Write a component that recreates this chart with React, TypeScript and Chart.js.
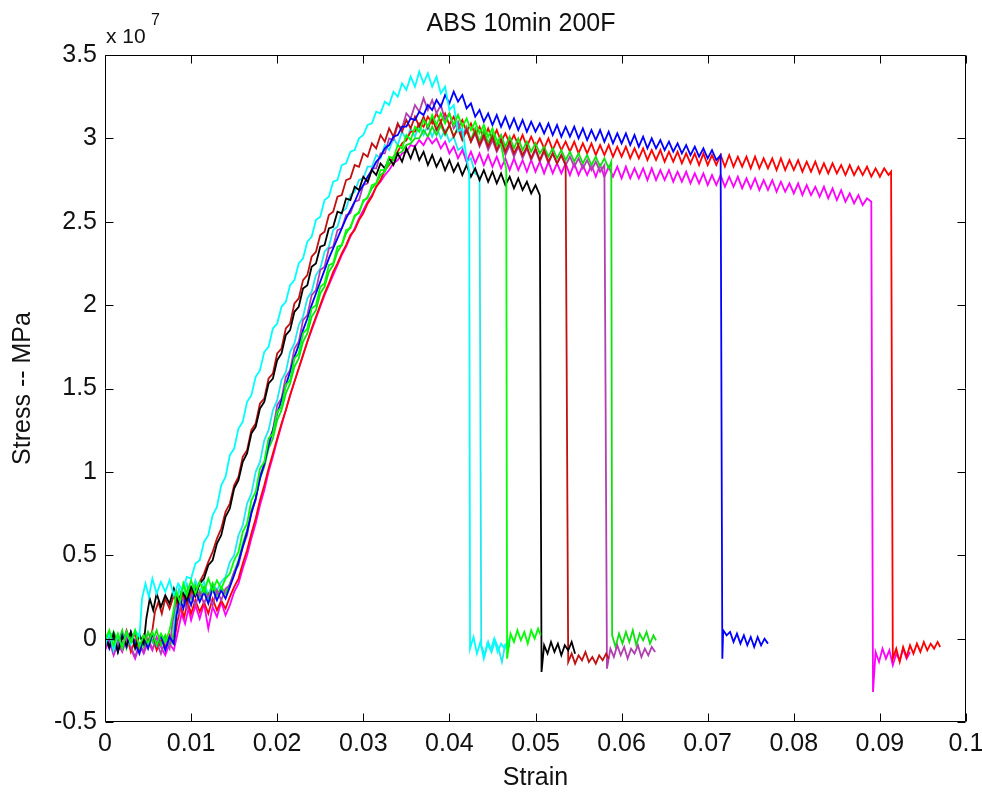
import React, { useEffect, useRef } from 'react';
import { Chart, registerables } from 'chart.js';

Chart.register(...registerables);

// ---- axis ticks ----
const xTickValues = [0, 0.01, 0.02, 0.03, 0.04, 0.05, 0.06, 0.07, 0.08, 0.09, 0.1];
const xTickLabels = ['0', '0.01', '0.02', '0.03', '0.04', '0.05', '0.06', '0.07', '0.08', '0.09', '0.1'];
const yTickValues = [-0.5, 0, 0.5, 1, 1.5, 2, 2.5, 3, 3.5];
const yTickLabels = ['-0.5', '0', '0.5', '1', '1.5', '2', '2.5', '3', '3.5'];

const titleText = 'ABS 10min 200F';
const xLabel = 'Strain';
const yLabel = 'Stress -- MPa';

// ---- series: [strain, stress (x 10^7)] ----
const cyanA = [
  [0, -0.04], [0.0005, 0.03], [0.001, -0.07], [0.0015, 0.02], [0.002, -0.05], [0.0025, 0.04], [0.003, -0.03], [0.0035, 0.05], [0.004, 0.01],
  [0.0043, 0.24], [0.0047, 0.33], [0.0051, 0.25], [0.0055, 0.36], [0.006, 0.27], [0.0065, 0.34], [0.007, 0.28], [0.0075, 0.35], [0.008, 0.26], [0.0085, 0.33], [0.009, 0.29], [0.0095, 0.37],
  [0.01, 0.36], [0.0105, 0.45], [0.011, 0.47], [0.0115, 0.58], [0.012, 0.62], [0.0125, 0.74], [0.013, 0.79], [0.0135, 0.92], [0.014, 0.97], [0.0145, 1.1], [0.015, 1.14], [0.0155, 1.26], [0.016, 1.3], [0.0165, 1.42], [0.017, 1.46], [0.0175, 1.57], [0.018, 1.61], [0.0185, 1.72], [0.019, 1.75], [0.0195, 1.86], [0.02, 1.89], [0.0205, 1.99], [0.021, 2.02], [0.0215, 2.12], [0.022, 2.15], [0.0225, 2.25], [0.023, 2.28], [0.0235, 2.38], [0.024, 2.41], [0.0245, 2.51], [0.025, 2.53], [0.0255, 2.63], [0.026, 2.65], [0.0265, 2.74], [0.027, 2.75], [0.0275, 2.84], [0.028, 2.85], [0.0285, 2.92], [0.029, 2.93], [0.0295, 3.0], [0.03, 3.02], [0.0305, 3.08], [0.031, 3.09], [0.0315, 3.16], [0.032, 3.15], [0.0325, 3.22], [0.033, 3.2], [0.0335, 3.28], [0.034, 3.25], [0.0345, 3.33], [0.035, 3.29], [0.0355, 3.37], [0.036, 3.31], [0.0365, 3.4], [0.037, 3.33], [0.0375, 3.39], [0.038, 3.31], [0.0385, 3.37], [0.039, 3.27], [0.0395, 3.31], [0.04, 3.17], [0.0405, 3.2], [0.041, 3.04], [0.0415, 3.06], [0.042, 2.88], [0.0423, 2.8],
  [0.0424, -0.06], [0.0428, 0.01], [0.0432, -0.09], [0.0436, -0.02], [0.044, -0.12], [0.0444, -0.03], [0.0448, -0.07], [0.0452, 0.0], [0.0456, -0.08], [0.046, -0.03], [0.0464, -0.06], [0.0468, -0.01], [0.047, -0.05],
];

const cyanB = [
  [0, -0.02], [0.001, 0.04], [0.002, -0.05], [0.003, 0.02], [0.004, -0.04], [0.005, 0.03], [0.006, -0.06], [0.007, 0.01], [0.0078, -0.03], [0.0082, 0.18], [0.0086, 0.3], [0.009, 0.24], [0.0095, 0.33], [0.01, 0.27], [0.0105, 0.35], [0.011, 0.28], [0.0115, 0.34], [0.012, 0.26], [0.0125, 0.33], [0.013, 0.29], [0.0135, 0.34],
  [0.014, 0.37], [0.0145, 0.46], [0.015, 0.5], [0.0155, 0.62], [0.016, 0.68], [0.0165, 0.81], [0.017, 0.87], [0.0175, 1.0], [0.018, 1.06], [0.0185, 1.19], [0.019, 1.25], [0.0195, 1.37], [0.02, 1.43], [0.0205, 1.55], [0.021, 1.6], [0.0215, 1.72], [0.022, 1.77], [0.0225, 1.88], [0.023, 1.93], [0.0235, 2.04], [0.024, 2.08], [0.0245, 2.18], [0.025, 2.22], [0.0255, 2.32], [0.026, 2.35], [0.0265, 2.45], [0.027, 2.47], [0.0275, 2.56], [0.028, 2.58], [0.0285, 2.66], [0.029, 2.68], [0.0295, 2.75], [0.03, 2.76], [0.0305, 2.83], [0.031, 2.83], [0.0315, 2.9], [0.032, 2.88], [0.0325, 2.96], [0.033, 2.93], [0.0335, 3.0], [0.034, 2.96], [0.0345, 3.04], [0.035, 2.99], [0.0355, 3.06], [0.036, 3.01], [0.0365, 3.08], [0.037, 3.02], [0.0375, 3.08], [0.038, 3.01], [0.0385, 3.07], [0.039, 3.0], [0.0395, 3.05], [0.04, 2.98], [0.0405, 3.01], [0.041, 2.93], [0.0415, 2.95], [0.042, 2.86], [0.0425, 2.88], [0.043, 2.79], [0.0435, 2.77],
  [0.0437, -0.04], [0.0441, -0.1], [0.0445, -0.02], [0.0449, -0.08], [0.0453, -0.01], [0.0457, -0.06], [0.0461, -0.14], [0.0465, -0.03],
];

const blackRun = [
  [0, 0.02], [0.0005, -0.05], [0.001, 0.03], [0.0015, -0.08], [0.002, 0.01], [0.0025, -0.04], [0.003, 0.04], [0.0035, -0.06], [0.004, 0.02], [0.0045, -0.03], [0.0048, 0.12], [0.0052, 0.24], [0.0056, 0.17], [0.006, 0.27], [0.0065, 0.19], [0.007, 0.26], [0.0075, 0.21], [0.008, 0.3], [0.0085, 0.22], [0.009, 0.28], [0.0095, 0.23], [0.01, 0.31], [0.0105, 0.26],
  [0.011, 0.33], [0.0115, 0.36], [0.012, 0.44], [0.0125, 0.47], [0.013, 0.57], [0.0135, 0.62], [0.014, 0.73], [0.0145, 0.78], [0.015, 0.9], [0.0155, 0.95], [0.016, 1.06], [0.0165, 1.11], [0.017, 1.23], [0.0175, 1.27], [0.018, 1.38], [0.0185, 1.42], [0.019, 1.53], [0.0195, 1.56], [0.02, 1.67], [0.0205, 1.71], [0.021, 1.82], [0.0215, 1.85], [0.022, 1.96], [0.0225, 1.99], [0.023, 2.1], [0.0235, 2.12], [0.024, 2.23], [0.0245, 2.25], [0.025, 2.35], [0.0255, 2.36], [0.026, 2.46], [0.0265, 2.47], [0.027, 2.56], [0.0275, 2.55], [0.028, 2.64], [0.0285, 2.63], [0.029, 2.71], [0.0295, 2.69], [0.03, 2.77], [0.0305, 2.74], [0.031, 2.81], [0.0315, 2.78], [0.032, 2.85], [0.0325, 2.82], [0.033, 2.88], [0.0335, 2.84], [0.034, 2.91], [0.0345, 2.86], [0.035, 2.94], [0.0355, 2.88], [0.036, 2.95], [0.0365, 2.87], [0.037, 2.92], [0.0375, 2.84], [0.038, 2.9], [0.0385, 2.83], [0.039, 2.88], [0.0395, 2.81], [0.04, 2.87], [0.0405, 2.8], [0.041, 2.85], [0.0415, 2.78], [0.042, 2.84], [0.0425, 2.77], [0.043, 2.82], [0.0435, 2.75], [0.044, 2.81], [0.0445, 2.74], [0.045, 2.8], [0.0455, 2.73], [0.046, 2.79], [0.0465, 2.72], [0.047, 2.77], [0.0475, 2.7], [0.048, 2.76], [0.0485, 2.69], [0.049, 2.74], [0.0495, 2.67], [0.05, 2.72], [0.0505, 2.66],
  [0.0507, -0.2], [0.051, -0.04], [0.0514, -0.09], [0.0518, -0.02], [0.0522, -0.08], [0.0526, -0.03], [0.053, -0.1], [0.0534, -0.04], [0.0538, -0.07], [0.0542, -0.02], [0.0546, -0.09],
];

const darkRedRun = [
  [0, -0.03], [0.0005, 0.04], [0.001, -0.06], [0.0015, 0.01], [0.002, -0.04], [0.0025, 0.05], [0.003, -0.02], [0.0035, 0.03], [0.004, -0.07], [0.0045, 0.02], [0.005, -0.03], [0.0055, 0.05], [0.0058, 0.16], [0.0062, 0.22], [0.0066, 0.15], [0.007, 0.24], [0.0075, 0.18], [0.008, 0.26], [0.0085, 0.2], [0.009, 0.27], [0.0095, 0.21], [0.01, 0.29], [0.0105, 0.25],
  [0.011, 0.34], [0.0115, 0.39], [0.012, 0.46], [0.0125, 0.52], [0.013, 0.6], [0.0135, 0.66], [0.014, 0.76], [0.0145, 0.81], [0.015, 0.92], [0.0155, 0.97], [0.016, 1.09], [0.0165, 1.13], [0.017, 1.25], [0.0175, 1.29], [0.018, 1.41], [0.0185, 1.44], [0.019, 1.56], [0.0195, 1.59], [0.02, 1.71], [0.0205, 1.74], [0.021, 1.86], [0.0215, 1.89], [0.022, 2.01], [0.0225, 2.04], [0.023, 2.15], [0.0235, 2.18], [0.024, 2.29], [0.0245, 2.32], [0.025, 2.42], [0.0255, 2.44], [0.026, 2.54], [0.0265, 2.56], [0.027, 2.65], [0.0275, 2.66], [0.028, 2.75], [0.0285, 2.76], [0.029, 2.84], [0.0295, 2.83], [0.03, 2.91], [0.0305, 2.89], [0.031, 2.97], [0.0315, 2.94], [0.032, 3.02], [0.0325, 2.98], [0.033, 3.06], [0.0335, 3.01], [0.034, 3.09], [0.0345, 3.04], [0.035, 3.11], [0.0355, 3.06], [0.036, 3.13], [0.0365, 3.07], [0.037, 3.13], [0.0375, 3.06], [0.038, 3.12], [0.0385, 3.05], [0.039, 3.1], [0.0395, 3.03], [0.04, 3.08], [0.0405, 3.01], [0.041, 3.06], [0.0415, 2.99], [0.042, 3.05], [0.0425, 2.98], [0.043, 3.04], [0.0435, 2.96], [0.044, 3.02], [0.0445, 2.95], [0.045, 3.01], [0.0455, 2.93], [0.046, 2.99], [0.0465, 2.92], [0.047, 2.98], [0.0475, 2.91], [0.048, 2.96], [0.0485, 2.9], [0.049, 2.95], [0.0495, 2.88], [0.05, 2.94], [0.0505, 2.87], [0.051, 2.93], [0.0515, 2.86], [0.052, 2.91], [0.0525, 2.85], [0.053, 2.9], [0.0535, 2.84],
  [0.0538, -0.14], [0.0542, -0.09], [0.0546, -0.15], [0.055, -0.1], [0.0554, -0.13], [0.0558, -0.08], [0.0562, -0.14], [0.0566, -0.11], [0.057, -0.15], [0.0574, -0.1], [0.0578, -0.13], [0.0582, -0.09], [0.0585, -0.12],
];

const purpleRun = [
  [0, -0.06], [0.0005, 0.01], [0.001, -0.09], [0.0015, -0.02], [0.002, -0.07], [0.0025, 0.02], [0.003, -0.05], [0.0035, -0.11], [0.004, -0.03], [0.0045, -0.08], [0.005, 0.0], [0.0055, -0.06], [0.006, -0.02], [0.0065, -0.09], [0.007, -0.01], [0.0075, -0.06], [0.0078, 0.08], [0.0082, 0.22], [0.0086, 0.15], [0.009, 0.25], [0.0095, 0.18], [0.01, 0.27], [0.0105, 0.2], [0.011, 0.28], [0.0115, 0.21], [0.012, 0.27], [0.0125, 0.2], [0.013, 0.29], [0.0135, 0.23],
  [0.014, 0.3], [0.0145, 0.32], [0.015, 0.4], [0.0155, 0.44], [0.016, 0.55], [0.0165, 0.62], [0.017, 0.76], [0.0175, 0.83], [0.018, 0.98], [0.0185, 1.04], [0.019, 1.19], [0.0195, 1.25], [0.02, 1.4], [0.0205, 1.44], [0.021, 1.57], [0.0215, 1.61], [0.022, 1.74], [0.0225, 1.78], [0.023, 1.91], [0.0235, 1.94], [0.024, 2.06], [0.0245, 2.09], [0.025, 2.21], [0.0255, 2.23], [0.026, 2.34], [0.0265, 2.35], [0.027, 2.45], [0.0275, 2.46], [0.028, 2.54], [0.0285, 2.55], [0.029, 2.62], [0.0295, 2.63], [0.03, 2.72], [0.0305, 2.73], [0.031, 2.82], [0.0315, 2.82], [0.032, 2.91], [0.0325, 2.91], [0.033, 3.0], [0.0335, 2.99], [0.034, 3.08], [0.0345, 3.06], [0.035, 3.15], [0.0355, 3.12], [0.036, 3.2], [0.0365, 3.16], [0.037, 3.24], [0.0375, 3.17], [0.038, 3.23], [0.0385, 3.15], [0.039, 3.2], [0.0395, 3.11], [0.04, 3.15], [0.0405, 3.06], [0.041, 3.1], [0.0415, 3.02], [0.042, 3.06], [0.0425, 2.98], [0.043, 3.03], [0.0435, 2.95], [0.044, 3.01], [0.0445, 2.93], [0.045, 2.99], [0.0455, 2.92], [0.046, 2.97], [0.0465, 2.9], [0.047, 2.96], [0.0475, 2.89], [0.048, 2.95], [0.0485, 2.88], [0.049, 2.94], [0.0495, 2.87], [0.05, 2.93], [0.0505, 2.86], [0.051, 2.92], [0.0515, 2.85], [0.052, 2.91], [0.0525, 2.85], [0.053, 2.9], [0.0535, 2.84], [0.054, 2.89], [0.0545, 2.83], [0.055, 2.88], [0.0555, 2.82], [0.056, 2.87], [0.0565, 2.81], [0.057, 2.86], [0.0575, 2.8], [0.058, 2.84],
  [0.0583, -0.18], [0.0587, -0.06], [0.0591, -0.11], [0.0595, -0.04], [0.0599, -0.1], [0.0603, -0.05], [0.0607, -0.12], [0.0611, -0.06], [0.0615, -0.09], [0.0619, -0.04], [0.0623, -0.11], [0.0627, -0.06], [0.0631, -0.1], [0.0635, -0.05], [0.0639, -0.08],
];

const greenA = [
  [0, -0.01], [0.0005, 0.05], [0.001, -0.04], [0.0015, 0.03], [0.002, -0.06], [0.0025, 0.04], [0.003, -0.02], [0.0035, 0.05], [0.004, -0.05], [0.0045, 0.02], [0.005, -0.03], [0.0055, 0.04], [0.006, -0.04], [0.0065, 0.03], [0.007, -0.02], [0.0075, 0.05], [0.0079, 0.15], [0.0083, 0.28], [0.0087, 0.22], [0.0091, 0.33], [0.0095, 0.26], [0.01, 0.35], [0.0105, 0.27], [0.011, 0.34], [0.0115, 0.28], [0.012, 0.36], [0.0125, 0.29], [0.013, 0.35], [0.0135, 0.3],
  [0.014, 0.36], [0.0145, 0.39], [0.015, 0.47], [0.0155, 0.52], [0.016, 0.64], [0.0165, 0.69], [0.017, 0.83], [0.0175, 0.88], [0.018, 1.02], [0.0185, 1.06], [0.019, 1.2], [0.0195, 1.23], [0.02, 1.36], [0.0205, 1.39], [0.021, 1.52], [0.0215, 1.55], [0.022, 1.68], [0.0225, 1.71], [0.023, 1.83], [0.0235, 1.86], [0.024, 1.98], [0.0245, 2.0], [0.025, 2.11], [0.0255, 2.13], [0.026, 2.24], [0.0265, 2.25], [0.027, 2.35], [0.0275, 2.36], [0.028, 2.45], [0.0285, 2.46], [0.029, 2.54], [0.0295, 2.55], [0.03, 2.63], [0.0305, 2.64], [0.031, 2.72], [0.0315, 2.73], [0.032, 2.81], [0.0325, 2.81], [0.033, 2.89], [0.0335, 2.88], [0.034, 2.96], [0.0345, 2.94], [0.035, 3.02], [0.0355, 2.99], [0.036, 3.07], [0.0365, 3.04], [0.037, 3.11], [0.0375, 3.07], [0.038, 3.14], [0.0385, 3.08], [0.039, 3.15], [0.0395, 3.09], [0.04, 3.15], [0.0405, 3.08], [0.041, 3.14], [0.0415, 3.07], [0.042, 3.12], [0.0425, 3.05], [0.043, 3.1], [0.0435, 3.03], [0.044, 3.08], [0.0445, 3.01], [0.045, 3.06], [0.0455, 2.99], [0.046, 2.96], [0.0463, 2.88], [0.0466, 2.82],
  [0.0467, -0.12], [0.0471, 0.03], [0.0475, -0.02], [0.0479, 0.05], [0.0483, -0.01], [0.0487, 0.04], [0.0491, -0.03], [0.0495, 0.05], [0.0499, 0.0], [0.0503, 0.06], [0.0506, 0.02],
];

const greenB = [
  [0, 0.02], [0.0005, -0.05], [0.001, 0.04], [0.0015, -0.03], [0.002, 0.05], [0.0025, -0.06], [0.003, 0.01], [0.0035, -0.04], [0.004, 0.03], [0.0045, -0.05], [0.005, 0.04], [0.0055, -0.02], [0.006, 0.05], [0.0065, -0.04], [0.007, 0.02], [0.0075, -0.05], [0.008, 0.03], [0.0084, 0.18], [0.0088, 0.27], [0.0092, 0.21], [0.0096, 0.3], [0.01, 0.24], [0.0105, 0.32], [0.011, 0.25], [0.0115, 0.31], [0.012, 0.24], [0.0125, 0.33], [0.013, 0.26], [0.0135, 0.31], [0.014, 0.27],
  [0.0145, 0.33], [0.015, 0.4], [0.0155, 0.47], [0.016, 0.57], [0.0165, 0.65], [0.017, 0.77], [0.0175, 0.84], [0.018, 0.96], [0.0185, 1.03], [0.019, 1.14], [0.0195, 1.2], [0.02, 1.31], [0.0205, 1.37], [0.021, 1.47], [0.0215, 1.53], [0.022, 1.63], [0.0225, 1.68], [0.023, 1.78], [0.0235, 1.83], [0.024, 1.93], [0.0245, 1.97], [0.025, 2.07], [0.0255, 2.11], [0.026, 2.2], [0.0265, 2.24], [0.027, 2.32], [0.0275, 2.36], [0.028, 2.43], [0.0285, 2.47], [0.029, 2.53], [0.0295, 2.56], [0.03, 2.62], [0.0305, 2.65], [0.031, 2.7], [0.0315, 2.73], [0.032, 2.78], [0.0325, 2.8], [0.033, 2.85], [0.0335, 2.87], [0.034, 2.91], [0.0345, 2.92], [0.035, 2.96], [0.0355, 2.97], [0.036, 3.0], [0.0365, 3.0], [0.037, 3.05], [0.0375, 3.01], [0.038, 3.07], [0.0385, 3.02], [0.039, 3.08], [0.0395, 3.02], [0.04, 3.08], [0.0405, 3.01], [0.041, 3.07], [0.0415, 3.0], [0.042, 3.07], [0.0425, 2.99], [0.043, 3.06], [0.0435, 2.98], [0.044, 3.05], [0.0445, 2.97], [0.045, 3.03], [0.0455, 2.96], [0.046, 3.02], [0.0465, 2.95], [0.047, 3.01], [0.0475, 2.94], [0.048, 3.0], [0.0485, 2.93], [0.049, 2.98], [0.0495, 2.92], [0.05, 2.97], [0.0505, 2.91], [0.051, 2.95], [0.0515, 2.89], [0.052, 2.94], [0.0525, 2.88], [0.053, 2.93], [0.0535, 2.87], [0.054, 2.92], [0.0545, 2.86], [0.055, 2.91], [0.0555, 2.85], [0.056, 2.9], [0.0565, 2.84], [0.057, 2.89], [0.0575, 2.83], [0.058, 2.88], [0.0585, 2.82], [0.0588, 2.86],
  [0.0589, 0.02], [0.0593, -0.05], [0.0597, 0.03], [0.0601, -0.03], [0.0605, 0.04], [0.0609, -0.02], [0.0613, 0.05], [0.0617, -0.04], [0.0621, 0.03], [0.0625, -0.01], [0.0629, 0.04], [0.0633, -0.03], [0.0637, 0.02], [0.064, -0.01],
];

const blueRun = [
  [0, 0.03], [0.0005, -0.06], [0.001, 0.01], [0.0015, -0.08], [0.002, 0.02], [0.0025, -0.05], [0.003, 0.04], [0.0035, -0.03], [0.004, -0.09], [0.0045, 0.01], [0.005, -0.06], [0.0055, 0.03], [0.006, -0.04], [0.0065, 0.02], [0.007, -0.07], [0.0075, 0.01], [0.008, -0.03], [0.0083, 0.14], [0.0087, 0.24], [0.0091, 0.18], [0.0095, 0.27], [0.01, 0.2], [0.0105, 0.29], [0.011, 0.22], [0.0115, 0.28], [0.012, 0.21], [0.0125, 0.3], [0.013, 0.23], [0.0135, 0.29], [0.014, 0.24],
  [0.0145, 0.31], [0.015, 0.38], [0.0155, 0.46], [0.016, 0.55], [0.0165, 0.64], [0.017, 0.75], [0.0175, 0.84], [0.018, 0.96], [0.0185, 1.05], [0.019, 1.16], [0.0195, 1.25], [0.02, 1.35], [0.0205, 1.43], [0.021, 1.52], [0.0215, 1.6], [0.022, 1.69], [0.0225, 1.76], [0.023, 1.85], [0.0235, 1.92], [0.024, 2.0], [0.0245, 2.07], [0.025, 2.14], [0.0255, 2.21], [0.026, 2.28], [0.0265, 2.34], [0.027, 2.4], [0.0275, 2.46], [0.028, 2.52], [0.0285, 2.57], [0.029, 2.62], [0.0295, 2.68], [0.03, 2.72], [0.0305, 2.77], [0.031, 2.81], [0.0315, 2.86], [0.032, 2.89], [0.0325, 2.94], [0.033, 2.96], [0.0335, 3.01], [0.034, 3.02], [0.0345, 3.07], [0.035, 3.07], [0.0355, 3.12], [0.036, 3.11], [0.0365, 3.16], [0.037, 3.14], [0.0375, 3.2], [0.038, 3.17], [0.0385, 3.23], [0.039, 3.19], [0.0395, 3.26], [0.04, 3.21], [0.0405, 3.28], [0.041, 3.22], [0.0415, 3.26], [0.042, 3.18], [0.0425, 3.21], [0.043, 3.13], [0.0435, 3.17], [0.044, 3.1], [0.0445, 3.15], [0.045, 3.08], [0.0455, 3.14], [0.046, 3.07], [0.0465, 3.13], [0.047, 3.06], [0.0475, 3.12], [0.048, 3.05], [0.0485, 3.11], [0.049, 3.04], [0.0495, 3.1], [0.05, 3.04], [0.0505, 3.09], [0.051, 3.03], [0.0515, 3.09], [0.052, 3.02], [0.0525, 3.08], [0.053, 3.01], [0.0535, 3.07], [0.054, 3.01], [0.0545, 3.07], [0.055, 3.0], [0.0555, 3.06], [0.056, 2.99], [0.0565, 3.05], [0.057, 2.99], [0.0575, 3.05], [0.058, 2.98], [0.0585, 3.04], [0.059, 2.97], [0.0595, 3.03], [0.06, 2.97], [0.0605, 3.03], [0.061, 2.96], [0.0615, 3.02], [0.062, 2.95], [0.0625, 3.01], [0.063, 2.94], [0.0635, 3.0], [0.064, 2.94], [0.0645, 2.99], [0.065, 2.93], [0.0655, 2.98], [0.066, 2.92], [0.0665, 2.97], [0.067, 2.91], [0.0675, 2.96], [0.068, 2.9], [0.0685, 2.95], [0.069, 2.89], [0.0695, 2.94], [0.07, 2.88], [0.0705, 2.93], [0.071, 2.87], [0.0715, 2.9],
  [0.0717, -0.12], [0.0718, 0.05], [0.0722, 0.02], [0.0726, 0.04], [0.073, -0.02], [0.0734, 0.03], [0.0738, -0.03], [0.0742, 0.02], [0.0746, -0.04], [0.075, 0.01], [0.0754, -0.05], [0.0758, 0.01], [0.0762, -0.04], [0.0766, 0.0], [0.077, -0.03],
];

const redRun = [
  [0, -0.04], [0.0005, 0.02], [0.001, -0.07], [0.0015, 0.01], [0.002, -0.05], [0.0025, 0.03], [0.003, -0.08], [0.0035, -0.01], [0.004, -0.06], [0.0045, 0.02], [0.005, -0.04], [0.0055, 0.03], [0.006, -0.07], [0.0065, -0.01], [0.007, -0.05], [0.0075, 0.02], [0.008, -0.03], [0.0084, 0.1], [0.0088, 0.19], [0.0092, 0.13], [0.0096, 0.22], [0.01, 0.15], [0.0105, 0.23], [0.011, 0.16], [0.0115, 0.22], [0.012, 0.15], [0.0125, 0.24], [0.013, 0.17], [0.0135, 0.23], [0.014, 0.18], [0.0145, 0.25],
  [0.015, 0.31], [0.0155, 0.36], [0.016, 0.45], [0.0165, 0.53], [0.017, 0.63], [0.0175, 0.72], [0.018, 0.83], [0.0185, 0.92], [0.019, 1.02], [0.0195, 1.11], [0.02, 1.2], [0.0205, 1.29], [0.021, 1.37], [0.0215, 1.46], [0.022, 1.54], [0.0225, 1.62], [0.023, 1.7], [0.0235, 1.78], [0.024, 1.86], [0.0245, 1.93], [0.025, 2.0], [0.0255, 2.07], [0.026, 2.13], [0.0265, 2.2], [0.027, 2.25], [0.0275, 2.31], [0.028, 2.36], [0.0285, 2.42], [0.029, 2.45], [0.0295, 2.51], [0.03, 2.55], [0.0305, 2.61], [0.031, 2.65], [0.0315, 2.71], [0.032, 2.75], [0.0325, 2.81], [0.033, 2.84], [0.0335, 2.89], [0.034, 2.92], [0.0345, 2.97], [0.035, 2.99], [0.0355, 3.04], [0.036, 3.04], [0.0365, 3.09], [0.037, 3.07], [0.0375, 3.13], [0.038, 3.09], [0.0385, 3.15], [0.039, 3.1], [0.0395, 3.15], [0.04, 3.08], [0.0405, 3.13], [0.041, 3.06], [0.0415, 3.11], [0.042, 3.04], [0.0425, 3.09], [0.043, 3.02], [0.0435, 3.07], [0.044, 3.0], [0.0445, 3.06], [0.045, 2.99], [0.0455, 3.05], [0.046, 2.98], [0.0465, 3.03], [0.047, 2.97], [0.0475, 3.02], [0.048, 2.96], [0.0485, 3.02], [0.049, 2.95], [0.0495, 3.01], [0.05, 2.95], [0.0505, 3.0], [0.051, 2.94], [0.0515, 3.0], [0.052, 2.93], [0.0525, 2.99], [0.053, 2.93], [0.0535, 2.98], [0.054, 2.92], [0.0545, 2.98], [0.055, 2.91], [0.0555, 2.97], [0.056, 2.91], [0.0565, 2.97], [0.057, 2.9], [0.0575, 2.96], [0.058, 2.9], [0.0585, 2.96], [0.059, 2.89], [0.0595, 2.95], [0.06, 2.89], [0.0605, 2.95], [0.061, 2.88], [0.0615, 2.94], [0.062, 2.88], [0.0625, 2.94], [0.063, 2.87], [0.0635, 2.93], [0.064, 2.87], [0.0645, 2.93], [0.065, 2.86], [0.0655, 2.92], [0.066, 2.86], [0.0665, 2.92], [0.067, 2.85], [0.0675, 2.91], [0.068, 2.85], [0.0685, 2.91], [0.069, 2.84], [0.0695, 2.91], [0.07, 2.84], [0.0705, 2.9], [0.071, 2.84], [0.0715, 2.9], [0.072, 2.83], [0.0725, 2.9], [0.073, 2.83], [0.0735, 2.89], [0.074, 2.83], [0.0745, 2.89], [0.075, 2.82], [0.0755, 2.89], [0.076, 2.82], [0.0765, 2.88], [0.077, 2.82], [0.0775, 2.88], [0.078, 2.81], [0.0785, 2.88], [0.079, 2.81], [0.0795, 2.87], [0.08, 2.81], [0.0805, 2.87], [0.081, 2.8], [0.0815, 2.86], [0.082, 2.8], [0.0825, 2.86], [0.083, 2.79], [0.0835, 2.85], [0.084, 2.79], [0.0845, 2.85], [0.085, 2.79], [0.0855, 2.84], [0.086, 2.78], [0.0865, 2.84], [0.087, 2.78], [0.0875, 2.83], [0.088, 2.78], [0.0885, 2.83], [0.089, 2.77], [0.0895, 2.82], [0.09, 2.77], [0.0905, 2.82], [0.091, 2.78], [0.0913, 2.8],
  [0.0915, -0.12], [0.0919, -0.06], [0.0923, -0.14], [0.0927, -0.05], [0.0931, -0.11], [0.0935, -0.04], [0.0939, -0.09], [0.0943, -0.03], [0.0947, -0.08], [0.0951, -0.02], [0.0955, -0.07], [0.0959, -0.03], [0.0963, -0.06], [0.0967, -0.02], [0.097, -0.05],
];

const magentaRun = [
  [0, -0.07], [0.0005, -0.01], [0.001, -0.1], [0.0015, -0.03], [0.002, -0.08], [0.0025, 0.0], [0.003, -0.06], [0.0035, -0.12], [0.004, -0.04], [0.0045, -0.09], [0.005, -0.02], [0.0055, -0.07], [0.006, 0.01], [0.0065, -0.05], [0.007, -0.1], [0.0075, -0.03], [0.008, -0.07], [0.0085, 0.05], [0.0089, 0.15], [0.0093, 0.09], [0.0097, 0.18], [0.01, 0.11], [0.0105, 0.2], [0.011, 0.12], [0.0115, 0.21], [0.012, 0.06], [0.0125, 0.19], [0.013, 0.13], [0.0135, 0.22], [0.014, 0.14], [0.0145, 0.2],
  [0.015, 0.28], [0.0155, 0.33], [0.016, 0.42], [0.0165, 0.5], [0.017, 0.6], [0.0175, 0.69], [0.018, 0.8], [0.0185, 0.89], [0.019, 1.0], [0.0195, 1.09], [0.02, 1.19], [0.0205, 1.28], [0.021, 1.37], [0.0215, 1.46], [0.022, 1.54], [0.0225, 1.62], [0.023, 1.7], [0.0235, 1.78], [0.024, 1.85], [0.0245, 1.92], [0.025, 1.99], [0.0255, 2.06], [0.026, 2.12], [0.0265, 2.18], [0.027, 2.24], [0.0275, 2.3], [0.028, 2.35], [0.0285, 2.41], [0.029, 2.46], [0.0295, 2.52], [0.03, 2.57], [0.0305, 2.62], [0.031, 2.66], [0.0315, 2.71], [0.032, 2.74], [0.0325, 2.78], [0.033, 2.81], [0.0335, 2.85], [0.034, 2.87], [0.0345, 2.91], [0.035, 2.92], [0.0355, 2.96], [0.036, 2.95], [0.0365, 2.99], [0.037, 2.96], [0.0375, 3.01], [0.038, 2.97], [0.0385, 3.0], [0.039, 2.94], [0.0395, 2.98], [0.04, 2.91], [0.0405, 2.95], [0.041, 2.88], [0.0415, 2.93], [0.042, 2.86], [0.0425, 2.92], [0.043, 2.85], [0.0435, 2.91], [0.044, 2.84], [0.0445, 2.9], [0.045, 2.83], [0.0455, 2.89], [0.046, 2.82], [0.0465, 2.88], [0.047, 2.81], [0.0475, 2.88], [0.048, 2.81], [0.0485, 2.87], [0.049, 2.8], [0.0495, 2.87], [0.05, 2.8], [0.0505, 2.86], [0.051, 2.79], [0.0515, 2.86], [0.052, 2.79], [0.0525, 2.85], [0.053, 2.79], [0.0535, 2.85], [0.054, 2.78], [0.0545, 2.85], [0.055, 2.78], [0.0555, 2.84], [0.056, 2.78], [0.0565, 2.84], [0.057, 2.77], [0.0575, 2.84], [0.058, 2.77], [0.0585, 2.83], [0.059, 2.77], [0.0595, 2.83], [0.06, 2.76], [0.0605, 2.83], [0.061, 2.76], [0.0615, 2.82], [0.062, 2.76], [0.0625, 2.82], [0.063, 2.75], [0.0635, 2.82], [0.064, 2.75], [0.0645, 2.81], [0.065, 2.75], [0.0655, 2.81], [0.066, 2.74], [0.0665, 2.8], [0.067, 2.74], [0.0675, 2.8], [0.068, 2.73], [0.0685, 2.79], [0.069, 2.73], [0.0695, 2.79], [0.07, 2.72], [0.0705, 2.78], [0.071, 2.72], [0.0715, 2.78], [0.072, 2.71], [0.0725, 2.77], [0.073, 2.71], [0.0735, 2.77], [0.074, 2.7], [0.0745, 2.76], [0.075, 2.7], [0.0755, 2.76], [0.076, 2.69], [0.0765, 2.75], [0.077, 2.69], [0.0775, 2.75], [0.078, 2.68], [0.0785, 2.74], [0.079, 2.68], [0.0795, 2.73], [0.08, 2.67], [0.0805, 2.73], [0.081, 2.66], [0.0815, 2.72], [0.082, 2.66], [0.0825, 2.71], [0.083, 2.65], [0.0835, 2.71], [0.084, 2.64], [0.0845, 2.7], [0.085, 2.63], [0.0855, 2.69], [0.086, 2.62], [0.0865, 2.67], [0.087, 2.61], [0.0875, 2.66], [0.088, 2.6], [0.0885, 2.64], [0.089, 2.62],
  [0.0892, -0.32], [0.0895, -0.08], [0.0899, -0.14], [0.0903, -0.06], [0.0907, -0.12], [0.0911, -0.07], [0.0915, -0.16], [0.0919, -0.09], [0.0923, -0.13], [0.0927, -0.06], [0.0931, -0.12], [0.0935, -0.08],
];

// drawing order: first entries are painted on top
const seriesList = [
  { name: 'green A', points: greenA, color: '#00ff00' },
  { name: 'cyan A', points: cyanA, color: '#00ffff' },
  { name: 'black', points: blackRun, color: '#000000' },
  { name: 'blue', points: blueRun, color: '#0000ff' },
  { name: 'dark red', points: darkRedRun, color: '#c01010' },
  { name: 'purple', points: purpleRun, color: '#b040b0' },
  { name: 'green B', points: greenB, color: '#10e010' },
  { name: 'red', points: redRun, color: '#ff0000' },
  { name: 'magenta', points: magentaRun, color: '#ff00ff' },
  { name: 'cyan B', points: cyanB, color: '#20e8f0' },
];

const FONT = "'Liberation Sans', Arial, Helvetica, sans-serif";
const TEXT = '#111111';

const matlabFrame = {
  id: 'matlabFrame',
  afterDraw(chart: any) {
    const { ctx, chartArea } = chart;
    const { left, right, top, bottom } = chartArea;
    const xs = chart.scales.x;
    const ys = chart.scales.y;
    ctx.save();
    ctx.strokeStyle = '#000';
    ctx.lineWidth = 1;
    const L = Math.round(left) + 0.5;
    const R = Math.round(right) - 0.5;
    const T = Math.round(top) + 0.5;
    const B = Math.round(bottom) - 0.5;
    ctx.beginPath();
    ctx.rect(L, T, R - L, B - T);
    ctx.stroke();
    const tl = 8;
    ctx.beginPath();
    xTickValues.forEach((v) => {
      const px = Math.round(xs.getPixelForValue(v)) + 0.5;
      ctx.moveTo(px, B); ctx.lineTo(px, B - tl);
      ctx.moveTo(px, T); ctx.lineTo(px, T + tl);
    });
    yTickValues.forEach((v) => {
      const py = Math.round(ys.getPixelForValue(v)) + 0.5;
      ctx.moveTo(L, py); ctx.lineTo(L + tl, py);
      ctx.moveTo(R, py); ctx.lineTo(R - tl, py);
    });
    ctx.stroke();

    ctx.fillStyle = TEXT;
    // title
    ctx.font = `25px ${FONT}`;
    ctx.textAlign = 'center';
    ctx.textBaseline = 'middle';
    ctx.fillText(titleText, 521, 24);
    // x label
    ctx.fillText(xLabel, (left + right) / 2, 778);
    // y label
    ctx.save();
    ctx.translate(23, (top + bottom) / 2);
    ctx.rotate(-Math.PI / 2);
    ctx.fillText(yLabel, 0, 0);
    ctx.restore();
    // exponent
    ctx.textAlign = 'left';
    ctx.textBaseline = 'alphabetic';
    ctx.font = `21px ${FONT}`;
    ctx.fillText('x 10', 106, 43);
    ctx.font = `16px ${FONT}`;
    ctx.fillText('7', 151, 25);
    ctx.restore();
  },
};

export default function App() {
  const ref = useRef<HTMLCanvasElement | null>(null);

  useEffect(() => {
    if (!ref.current) return;
    const chart = new Chart(ref.current, {
      type: 'scatter',
      data: {
        datasets: seriesList.map((s) => ({
          label: s.name,
          data: s.points.map(([x, y]) => ({ x, y })),
          borderColor: s.color,
          backgroundColor: s.color,
          borderWidth: 1.8,
          pointRadius: 0,
          pointHoverRadius: 0,
          showLine: true,
          fill: false,
          tension: 0,
        })),
      },
      options: {
        animation: false,
        responsive: false,
        maintainAspectRatio: false,
        events: [],
        layout: { padding: { left: 0, right: 16, top: 55, bottom: 0 } },
        plugins: {
          legend: { display: false },
          tooltip: { enabled: false },
          title: { display: false },
        },
        scales: {
          x: {
            type: 'linear',
            min: 0,
            max: 0.1,
            afterBuildTicks: (scale: any) => {
              scale.ticks = xTickValues.map((v) => ({ value: v }));
            },
            afterFit: (scale: any) => {
              scale.height = 75;
              scale.paddingLeft = 0;
              scale.paddingRight = 0;
            },
            grid: { display: false, drawTicks: false },
            border: { display: false },
            ticks: {
              autoSkip: false,
              maxRotation: 0,
              padding: 7,
              color: TEXT,
              font: { family: FONT, size: 25 },
              callback: (_v: any, i: number) => xTickLabels[i],
            },
          },
          y: {
            type: 'linear',
            min: -0.5,
            max: 3.5,
            afterBuildTicks: (scale: any) => {
              scale.ticks = yTickValues.map((v) => ({ value: v }));
            },
            afterFit: (scale: any) => {
              scale.width = 105;
              scale.paddingTop = 0;
              scale.paddingBottom = 0;
            },
            grid: { display: false, drawTicks: false },
            border: { display: false },
            ticks: {
              autoSkip: false,
              padding: 8,
              color: TEXT,
              font: { family: FONT, size: 25 },
              callback: (_v: any, i: number) => yTickLabels[i],
            },
          },
        },
      },
      plugins: [matlabFrame],
    });
    return () => chart.destroy();
  }, []);

  return (
    <div style={{ position: 'absolute', left: 0, top: 0, width: 982, height: 797, background: '#fff' }}>
      <canvas ref={ref} width={982} height={797} style={{ display: 'block', width: 982, height: 797 }} />
    </div>
  );
}
